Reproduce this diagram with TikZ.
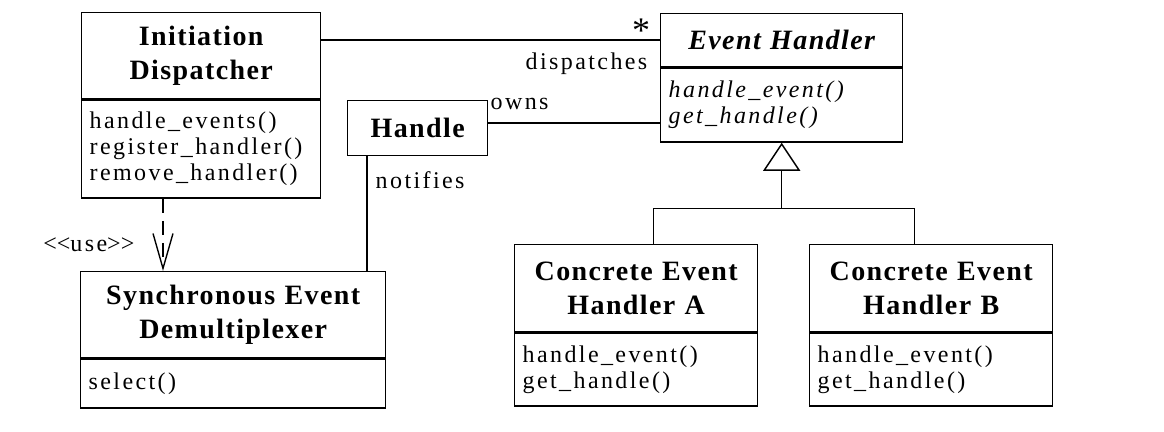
\documentclass[tikz,border=0pt]{standalone}
\usepackage{fontspec}
\setmainfont{Liberation Serif}[LetterSpace=10]
\usetikzlibrary{arrows.meta, positioning, calc}

\tikzset{
  classtitle/.style={draw, anchor=north west, align=center, inner xsep=4pt, inner ysep=0pt,
    font=\fontsize{14}{17}\selectfont\bfseries\addfontfeature{LetterSpace=5}},
  classops/.style={draw, anchor=north, align=left, inner xsep=4pt, inner ysep=0pt,
    font=\fontsize{12}{13}\selectfont},
  lbl/.style={inner sep=0pt, font=\fontsize{12}{13}\selectfont},
}

\begin{document}
\begin{tikzpicture}[x=0.5pt, y=-0.5pt, line width=0.7pt]
  \useasboundingbox (0,0) rectangle (1164,432);

  % classes (top left corners in px)
  \node[classtitle, text width=111.5pt, minimum height=43pt] (ID) at (81,12) {Initiation\\Dispatcher};
  \node[classops, text width=111.5pt, minimum height=49pt] (IDops) at (ID.south)
    {handle\_events()\\register\_handler()\\remove\_handler()};

  \node[classtitle, text width=113pt, minimum height=26.5pt,
    font=\fontsize{14}{17}\selectfont\bfseries\itshape\addfontfeature{LetterSpace=5}] (EH) at (660,13) {Event Handler};
  \node[classops, text width=113pt, minimum height=37pt,
    font=\fontsize{12}{13}\selectfont\itshape] (EHops) at (EH.south) {handle\_event()\\get\_handle()};

  \node[classtitle, text width=62pt, minimum height=27.5pt] (Handle) at (347,100) {Handle};

  \node[classtitle, text width=144.5pt, minimum height=43pt] (SED) at (80,271) {Synchronous Event\\Demultiplexer};
  \node[classops, text width=144.5pt, minimum height=24.5pt] (SEDops) at (SED.south) {select()};

  \node[classtitle, text width=113.5pt, minimum height=43.5pt] (CEHA) at (514,244) {Concrete Event\\Handler A};
  \node[classops, text width=113.5pt, minimum height=36.5pt] (CEHAops) at (CEHA.south) {handle\_event()\\get\_handle()};

  \node[classtitle, text width=113.5pt, minimum height=43.5pt] (CEHB) at (809,244) {Concrete Event\\Handler B};
  \node[classops, text width=113.5pt, minimum height=36.5pt] (CEHBops) at (CEHB.south) {handle\_event()\\get\_handle()};

  % associations
  \draw (EH.west) -- (EH.west -| ID.east);
  \draw ([yshift=2.5pt]Handle.east) -- ([yshift=2.5pt]Handle.east -| EHops.west);
  \draw ([xshift=10pt]Handle.south west) -- ([xshift=10pt]Handle.south west |- SED.north);

  % dependency
  \draw[dash pattern=on 7pt off 4pt, -{Straight Barb[length=17.5pt, width=10pt]}]
    ([xshift=41pt]IDops.south west) -- ([xshift=41pt]IDops.south west |- SED.north);

  % generalization
  \coordinate (split) at ($(EHops.south)+(0,66)$);
  \draw ([xshift=8.5pt]CEHA.north) |- (split) -| ([xshift=-8.5pt]CEHB.north);
  \draw[-{Triangle[open, length=14pt, width=18.5pt]}] (split) -- (EHops.south);

  % labels
  \node[lbl, font=\fontsize{18}{18}\selectfont] (many) at (641,31) {*};
  \node[lbl, anchor=east] (disp) at (648,64) {dispatches};
  \node[lbl, anchor=west] (owns) at (490,104) {owns};
  \node[lbl, anchor=west] (notif) at (375,180) {notifies};
  \node[lbl, anchor=east] (use) at (135,245) {<\kern0pt<\kern0pt use\kern0pt>\kern0pt>};
\end{tikzpicture}
\end{document}
